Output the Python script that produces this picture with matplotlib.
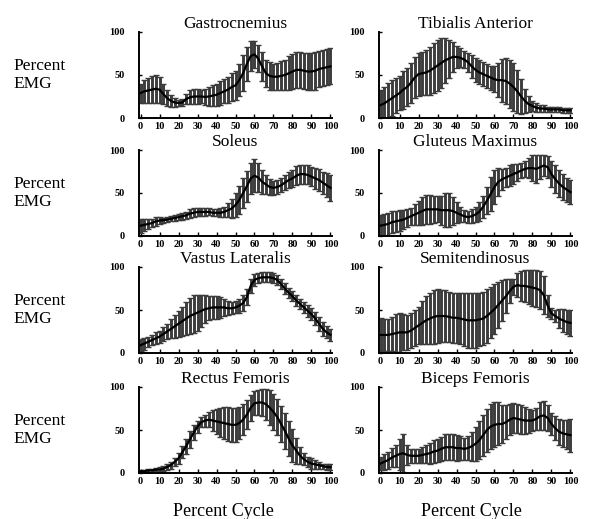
import matplotlib.pyplot as plt

plt.rcParams['font.family'] = ['Liberation Serif', 'DejaVu Serif']

# percent of gait cycle at which each mean / sd was read
cycle = list(range(0, 101, 2))

gas_mean = [29, 31, 32, 33, 34, 33, 28, 23, 20, 18, 17.5, 18, 22, 24, 25, 25, 25, 24.5, 25, 26,
            27, 29, 31, 33, 36, 38, 44, 52, 63, 72, 74, 69, 60, 52, 49, 48, 48, 49, 50, 52,
            54, 56, 56, 55, 54, 54, 55, 57, 58, 59, 60]
gas_sd = [11, 13, 15, 16, 16, 15, 12, 9, 7, 5, 4, 4, 6, 8, 9, 9, 8, 9, 11, 12,
          13, 14, 14, 15, 16, 17, 19, 21, 20, 17, 16, 16, 17, 16, 16, 15, 16, 17, 18, 20,
          20, 21, 21, 21, 22, 22, 22, 21, 21, 21, 21]

ta_mean = [15, 17, 20, 23, 26, 29, 33, 36, 41, 47, 51, 52, 53, 55, 58, 61, 64, 67, 69, 71,
           71, 70, 68, 65, 60, 56, 53, 51, 49, 47, 45, 44, 44, 43, 40, 36, 31, 25, 20, 16,
           14, 12, 11, 11, 10, 10, 10, 10, 9, 9, 9]
ta_sd = [18, 19, 21, 21, 20, 20, 22, 22, 23, 24, 25, 25, 26, 28, 29, 30, 29, 26, 22, 17,
         13, 11, 10, 11, 13, 14, 14, 14, 14, 14, 15, 20, 25, 27, 28, 28, 25, 20, 14, 9,
         6, 5, 4, 4, 3, 3, 3, 3, 3, 3, 3]

sol_mean = [12, 13, 14, 15, 17, 18, 18.5, 19, 20, 21, 22, 23, 24, 26, 27, 28, 28, 28, 28, 27,
            27, 27, 28, 30, 32, 36, 42, 50, 58, 67, 70, 68, 63, 60, 57, 56, 57, 59, 62, 65,
            67, 70, 72, 72, 71, 69, 67, 65, 62, 59, 56]
sol_sd = [8, 7, 6, 5, 5, 4, 3, 3, 3, 3, 3, 4, 4, 5, 5, 5, 5, 5, 4, 4,
          4, 5, 6, 8, 11, 14, 16, 17, 18, 18, 19, 17, 14, 11, 9, 8, 8, 8, 9, 9,
          10, 11, 11, 11, 11, 11, 12, 13, 13, 14, 15]

glu_mean = [12, 13, 14, 16, 17, 18, 19, 21, 23, 25, 27, 29, 31, 31, 31, 31, 30, 30, 30, 29,
            27, 25, 23, 22, 23, 25, 28, 34, 41, 49, 57, 63, 66, 68, 70, 72, 74, 76, 78, 79,
            79, 78, 80, 82, 80, 72, 66, 61, 57, 54, 51]
glu_sd = [12, 13, 13, 13, 12, 12, 11, 10, 10, 12, 14, 16, 17, 17, 16, 15, 17, 20, 20, 16,
          12, 9, 7, 7, 8, 9, 11, 13, 16, 20, 20, 16, 12, 11, 12, 12, 10, 9, 9, 12,
          15, 16, 14, 12, 13, 15, 16, 16, 15, 14, 14]

vl_mean = [9, 11, 13, 15, 17, 19, 22, 25, 28, 31, 34, 37, 40, 43, 45, 47, 49, 51, 52, 53,
           53, 53, 53, 52, 52, 53, 55, 58, 65, 78, 85, 87, 88, 88, 88, 87, 85, 80, 75, 70,
           66, 61, 57, 53, 49, 45, 40, 34, 28, 24, 21]
vl_sd = [7, 7, 6, 6, 7, 7, 8, 9, 11, 13, 15, 17, 19, 21, 22, 21, 19, 16, 14, 13,
         13, 12, 10, 8, 7, 7, 8, 9, 9, 8, 7, 6, 6, 6, 6, 6, 6, 6, 6, 6,
         6, 6, 6, 6, 7, 7, 8, 8, 8, 7, 7]

st_mean = [21, 21, 21, 22, 23, 24, 24, 24, 26, 29, 32, 35, 38, 40, 42, 43, 43, 43, 42, 41,
           41, 40, 39, 38, 38, 38, 39, 40, 43, 47, 51, 56, 61, 66, 72, 77, 79, 78, 78, 77,
           76, 75, 73, 67, 55, 46, 43, 40, 38, 36, 35]
st_sd = [20, 19, 19, 20, 22, 23, 21, 20, 20, 21, 22, 25, 28, 30, 31, 31, 30, 30, 29, 29,
         29, 30, 31, 32, 32, 32, 31, 31, 31, 30, 29, 27, 24, 20, 14, 9, 14, 17, 19, 20,
         21, 21, 22, 22, 13, 6, 7, 11, 13, 14, 15]

rf_mean = [2, 2, 3, 3, 4, 4, 5, 7, 9, 13, 17, 24, 31, 39, 47, 54, 59, 61, 62, 61,
           60, 59, 58, 57, 56, 56, 58, 62, 68, 76, 81, 82, 82, 80, 76, 71, 65, 57, 49, 40,
           32, 26, 20, 16, 13, 11, 10, 9, 8, 7, 7]
rf_sd = [2, 2, 2, 2, 2, 3, 3, 3, 4, 5, 6, 7, 9, 10, 9, 7, 6, 7, 9, 12,
         15, 17, 19, 20, 20, 20, 19, 18, 17, 15, 14, 15, 16, 18, 20, 21, 21, 21, 21, 20,
         19, 15, 10, 7, 6, 6, 5, 4, 3, 3, 3]

bf_mean = [11, 13, 15, 18, 20, 22, 23, 21, 20, 20, 20, 21, 22, 23, 25, 26, 28, 30, 30, 30,
           29, 29, 28, 29, 31, 34, 38, 44, 50, 54, 56, 57, 57, 59, 62, 64, 63, 62, 61, 61,
           61, 63, 66, 67, 64, 57, 52, 48, 46, 45, 44]
bf_sd = [8, 9, 10, 11, 13, 18, 22, 12, 8, 8, 8, 9, 10, 12, 13, 13, 14, 15, 15, 15,
         15, 14, 13, 14, 17, 20, 22, 24, 25, 26, 26, 25, 22, 20, 18, 17, 17, 17, 16, 14,
         12, 13, 16, 17, 15, 13, 14, 15, 16, 17, 19]

muscles = [
    ("Gastrocnemius", gas_mean, gas_sd),
    ("Tibialis Anterior", ta_mean, ta_sd),
    ("Soleus", sol_mean, sol_sd),
    ("Gluteus Maximus", glu_mean, glu_sd),
    ("Vastus Lateralis", vl_mean, vl_sd),
    ("Semitendinosus", st_mean, st_sd),
    ("Rectus Femoris", rf_mean, rf_sd),
    ("Biceps Femoris", bf_mean, bf_sd),
]

W, H = 590, 519
fig = plt.figure(figsize=(W / 100, H / 100), dpi=100)

col_left = [139, 379]
row_bottom = [118, 236, 353, 473]
aw, ah = 193, 86

for i, (name, m, s) in enumerate(muscles):
    r, c = divmod(i, 2)
    ax = fig.add_axes([col_left[c] / W, 1 - row_bottom[r] / H, aw / W, ah / H])
    ax.errorbar(cycle, m, yerr=s, fmt='none', ecolor='#3c3c3c',
                elinewidth=2.1, capsize=1.9, capthick=1.0)
    ax.plot(cycle, m, color='black', lw=1.6)

    ax.set_xlim(-0.8, 100.8)
    ax.set_ylim(0, 100)
    ax.set_xticks(range(0, 101, 10))
    ax.set_yticks([0, 50, 100])
    for side in ('top', 'right'):
        ax.spines[side].set_visible(False)
    for side in ('left', 'bottom'):
        ax.spines[side].set_linewidth(1.4)
    ax.tick_params(axis='x', direction='in', length=3, width=1, pad=3, labelsize=7.5)
    ax.tick_params(axis='y', direction='in', length=2, width=1, pad=10, labelsize=7.5)
    for lab in ax.get_xticklabels() + ax.get_yticklabels():
        lab.set_fontweight('bold')
    ax.set_title(name, fontsize=12.5, pad=0.5)

    if c == 0:
        yc = 1 - (row_bottom[r] - ah / 2) / H
        fig.text(13 / W, yc, "Percent\nEMG", fontsize=12.5, ha='left', va='center',
                 linespacing=1.15)

fig.text(223 / W, 1 - 511 / H, "Percent Cycle", fontsize=13, ha='center', va='center')
fig.text(471 / W, 1 - 511 / H, "Percent Cycle", fontsize=13, ha='center', va='center')

fig.savefig("out.png", dpi=100)
